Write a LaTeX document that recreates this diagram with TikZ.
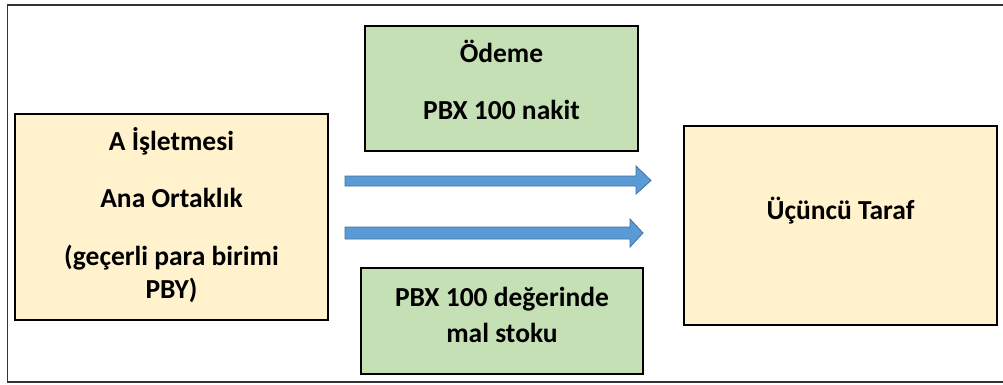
\documentclass[tikz,border=0pt]{standalone}
\usepackage{fontspec}
\setmainfont{Carlito}
\definecolor{boxyellow}{HTML}{FFF2CC}
\definecolor{boxgreen}{HTML}{C5E0B4}
\definecolor{arrowblue}{HTML}{5B9BD5}
\definecolor{arrowedge}{HTML}{41719C}
\definecolor{framegray}{HTML}{333333}
\begin{document}
\begin{tikzpicture}[x=1pt,y=-1pt,
  yellowbox/.style={draw=black,line width=1.3pt,fill=boxyellow},
  greenbox/.style={draw=black,line width=1.3pt,fill=boxgreen},
  blockarrow/.style={fill=arrowblue,draw=arrowedge,line width=0.8pt,line join=miter},
  txt/.style={anchor=base,inner sep=0pt,font=\fontsize{27.5}{33}\selectfont\bfseries}]
\useasboundingbox (0,0) rectangle (1003,385);
\fill[white] (0,0) rectangle (1003,385);
% frame (right side outside the picture)
\draw[framegray,line width=1.5pt] (1010,5) -- (7.5,5) -- (7.5,382) -- (1010,382);
% boxes
\draw[yellowbox] (15,114) rectangle (328,320);
\coordinate (A) at (171.5,217);
\draw[yellowbox] (684,126) rectangle (997,325);
\coordinate (U) at (840.5,225.5);
\draw[greenbox] (365,26) rectangle (638,151);
\draw[greenbox] (361,268) rectangle (643,374);
% texts
\node[txt] (a1) at (171.5,150) {A İşletmesi};
\node[txt] (a2) at (171.5,207) {Ana Ortaklık};
\node[txt] (a3) at (171.5,265) {(geçerli para birimi};
\node[txt] (a4) at (171.5,298) {PBY)};
\node[txt] (g1) at (501.5,63) {Ödeme};
\node[txt] (g2) at (501.5,120) {PBX 100 nakit};
\node[txt] (h1) at (502,306) {PBX 100 değerinde};
\node[txt] (h2) at (502,342) {mal stoku};
\node[txt] (u1) at (840.5,219) {Üçüncü Taraf};
% block arrows
\draw[blockarrow] (345,176) -- (636,176) -- (636,166) -- (651,180.5) -- (636,194) -- (636,186) -- (345,186) -- cycle;
\draw[blockarrow] (345,227) -- (630,227) -- (630,219) -- (643,233) -- (630,247) -- (630,239) -- (345,239) -- cycle;
\end{tikzpicture}
\end{document}
